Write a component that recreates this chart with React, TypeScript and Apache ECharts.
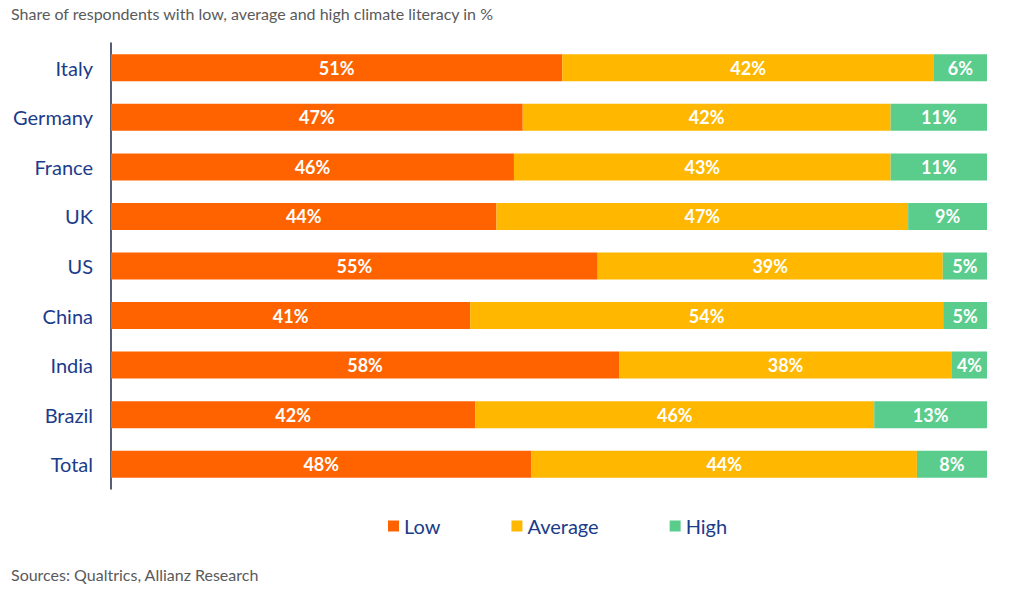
import React, { useEffect, useRef } from "react";
import * as echarts from "echarts";

const countries = ["Italy", "Germany", "France", "UK", "US", "China", "India", "Brazil", "Total"];
const low = [51, 47, 46, 44, 55, 41, 58, 42, 48];
const average = [42, 42, 43, 47, 39, 54, 38, 46, 44];
const high = [6, 11, 11, 9, 5, 5, 4, 13, 8];
const seriesNames = ["Low", "Average", "High"];
const colors = ["#FF6300", "#FFB700", "#5ACC8C"];

const FONT = "Lato, 'Noto Sans', sans-serif";

export default function App() {
  const ref = useRef<HTMLDivElement>(null);
  useEffect(() => {
    if (!ref.current) return;
    const chart = echarts.init(ref.current, undefined, { renderer: "svg" });
    const raw = [low, average, high];
    const totals = countries.map((_, i) => low[i] + average[i] + high[i]);
    const series = raw.map((arr, s) => ({
      name: seriesNames[s],
      type: "bar",
      stack: "total",
      barWidth: 27,
      itemStyle: { color: colors[s] },
      data: arr.map((v, i) => ({ value: (v / totals[i]) * 100, raw: v })),
      label: {
        show: true,
        position: "inside",
        color: "#ffffff",
        fontFamily: FONT,
        fontWeight: "bold",
        fontSize: 18,
        formatter: (p: any) => `${p.data.raw}%`,
      },
    }));
    chart.setOption({
      animation: false,
      textStyle: { fontFamily: FONT },
      title: [
        {
          text: "Share of respondents with low, average and high climate literacy in %",
          left: 6,
          top: 0,
          textStyle: { fontFamily: FONT, fontSize: 16, fontWeight: "normal", color: "#5a5a5a" },
        },
        {
          text: "Sources: Qualtrics, Allianz Research",
          left: 6,
          top: 561,
          textStyle: { fontFamily: FONT, fontSize: 16, fontWeight: "normal", color: "#5a5a5a" },
        },
      ],
      legend: {
        data: seriesNames,
        left: 383,
        top: 511,
        icon: "rect",
        itemWidth: 11,
        itemHeight: 11,
        itemGap: 71,
        textStyle: { fontFamily: FONT, fontSize: 20, color: "#1a3c8a" },
      },
      grid: { left: 111, right: 37, top: 43, bottom: 101, containLabel: false },
      xAxis: { type: "value", min: 0, max: 100, show: false },
      yAxis: {
        type: "category",
        data: countries,
        inverse: true,
        axisLine: { show: true, lineStyle: { color: "#1f2a44", width: 1.5 } },
        axisTick: { show: false },
        axisLabel: { fontFamily: FONT, fontSize: 20, color: "#1a3c8a", margin: 18, padding: [0, 0, 3, 0] },
      },
      series,
    });
    return () => chart.dispose();
  }, []);
  return (
    <div
      ref={ref}
      style={{ position: "fixed", left: 0, top: 0, width: 1024, height: 590, background: "#ffffff" }}
    />
  );
}
